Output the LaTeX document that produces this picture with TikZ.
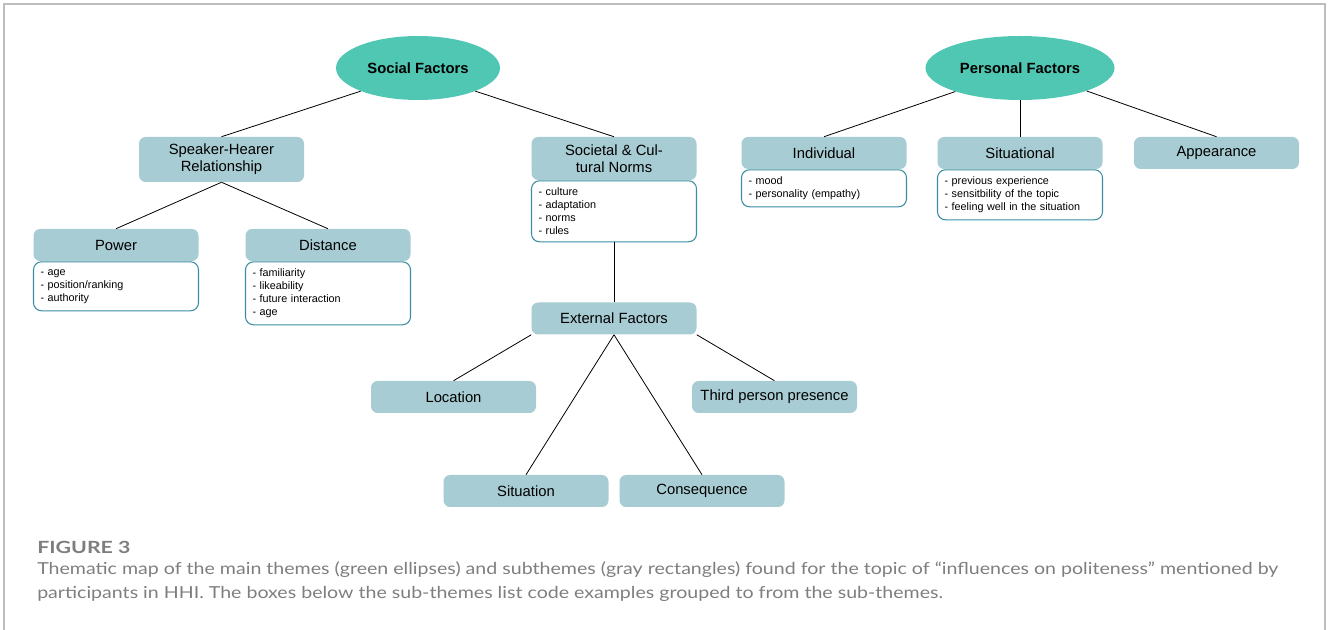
\documentclass[tikz,border=0pt]{standalone}
\usepackage{fontspec}
\setmainfont{Liberation Sans}
\newfontfamily\capfont{Lato}
\usetikzlibrary{shapes.geometric}
\definecolor{teal1}{HTML}{4FC7B3}
\definecolor{boxc}{HTML}{A8CCD3}
\definecolor{listb}{HTML}{3A8DA3}
\definecolor{capc}{HTML}{7E7E7E}
\definecolor{framec}{HTML}{BDBDBD}
\tikzset{
  theme/.style={ellipse, fill=teal1, inner sep=0pt, minimum height=48pt,
    font=\fontsize{11.1pt}{13pt}\selectfont\bfseries},
  hdr/.style={rectangle, rounded corners=5pt, fill=boxc, inner sep=0pt,
    minimum width=123.75pt, minimum height=24pt, align=center,
    font=\fontsize{11.1pt}{12.75pt}\selectfont},
  codelist/.style={rectangle, rounded corners=6pt, draw=listb, line width=0.8pt,
    fill=white, text width=113.25pt, inner xsep=5.25pt, inner ysep=0pt,
    align=left, anchor=north, font=\fontsize{8.1pt}{9.75pt}\selectfont},
  link/.style={draw=black, line width=0.6pt},
  captext/.style={anchor=base west, inner sep=0pt, text=capc,
    font=\capfont\fontsize{12.4pt}{15pt}\selectfont},
}
\begin{document}
\begin{tikzpicture}[x=0.75pt, y=-0.75pt]
\useasboundingbox (0,0) rectangle (1328,630);
% frame
\draw[framec, line width=1.1pt] (4,630) -- (4,4) -- (1325,4) -- (1325,630);

% main themes
\node[theme, minimum width=123pt] (sf) at (418,68) {Social Factors};
\node[theme, minimum width=141.75pt] (pf) at (1020,68) {Personal Factors};

% social subthemes
\node[hdr, minimum height=33.75pt] (sh) at (221.5,159.5) {Speaker-Hearer\\Relationship};
\node[hdr, minimum height=32.25pt] (scn) at (614,158.5) {Societal \& Cul-\\tural Norms};
\node[codelist, minimum height=45.75pt] (scnlist) at (scn.south) {- culture\\- adaptation\\- norms\\- rules};

\node[hdr] (power) at (116,245) {Power};
\node[codelist, minimum height=36.75pt] (powerlist) at (power.south) {- age\\- position/ranking\\- authority};
\node[hdr] (dist) at (328,245) {Distance};
\node[codelist, minimum height=47.25pt] (distlist) at (dist.south) {- familiarity\\- likeability\\- future interaction\\- age};

\node[hdr] (ext) at (614,318.5) {External Factors};
\node[hdr] (loc) at (453.5,397) {Location};
\node[hdr] (third) at (774.5,397) {Third person presence};
\node[hdr] (sit) at (526,491) {Situation};
\node[hdr] (cons) at (702,491) {Consequence};

% personal subthemes
\node[hdr] (indiv) at (824,153) {Individual};
\node[codelist, minimum height=27.75pt] (indivlist) at (indiv.south) {- mood\\- personality (empathy)};
\node[hdr] (situal) at (1020,153) {Situational};
\node[codelist, minimum height=37.5pt] (situallist) at (situal.south) {- previous experience\\- sensitbility of the topic\\- feeling well in the situation};
\node[hdr] (appear) at (1216.5,153) {Appearance};

% connectors
\draw[link] (sf.202) -- (sh.north);
\draw[link] (sf.338) -- (scn.north);
\draw[link] (sh.south) -- (power.north);
\draw[link] (sh.south) -- (dist.north);
\draw[link] (scnlist.south) -- (ext.north);
\draw[link] (ext.south west) -- (loc.north);
\draw[link] (ext.south) -- (sit.north);
\draw[link] (ext.south) -- (cons.north);
\draw[link] (ext.south east) -- (third.north);
\draw[link] (pf.200) -- (indiv.north);
\draw[link] (pf.south) -- (situal.north);
\draw[link] (pf.341) -- (appear.north);

% caption
\node[captext, font=\capfont\fontsize{12.6pt}{15pt}\selectfont\bfseries] (figlab) at (37,554) {\scalebox{1.27}[1]{FIGURE 3}};
\node[captext] (cap1) at (37,575)
  {\scalebox{1.184}[1]{Thematic map of the main themes (green ellipses) and subthemes (gray rectangles) found for the topic of “influences on politeness” mentioned by}};
\node[captext] (cap2) at (37,598)
  {\scalebox{1.184}[1]{participants in HHI. The boxes below the sub-themes list code examples grouped to from the sub-themes.}};
\end{tikzpicture}
\end{document}
